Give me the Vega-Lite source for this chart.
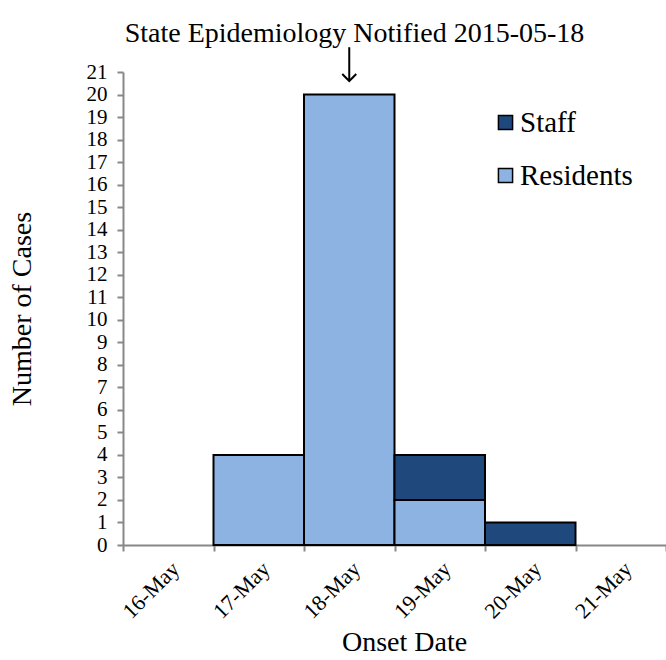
{
  "$schema": "https://vega.github.io/schema/vega-lite/v6.json",
  "width": 543,
  "height": 473,
  "autosize": "none",
  "padding": {"left": 123, "top": 72, "right": 0, "bottom": 115},
  "background": "white",
  "config": {
    "view": {"stroke": null},
    "font": "Liberation Serif",
    "axis": {"grid": false}
  },
  "title": {
    "text": "State Epidemiology Notified 2015-05-18",
    "fontSize": 28,
    "fontWeight": "normal",
    "font": "Liberation Serif",
    "color": "black",
    "anchor": "middle",
    "dx": -40,
    "offset": -2
  },
  "encoding": {
    "x": {
      "field": "date",
      "type": "nominal",
      "scale": {
        "domain": ["16-May", "17-May", "18-May", "19-May", "20-May", "21-May"],
        "paddingInner": 0,
        "paddingOuter": 0
      },
      "axis": {
        "title": "Onset Date",
        "titleFontSize": 28,
        "titleFontWeight": "normal",
        "titleColor": "black",
        "titlePadding": 6,
        "titleX": 281,
        "labelAngle": -45,
        "labelFontSize": 22,
        "labelColor": "black",
        "labelPadding": 7,
        "labelOverlap": false,
        "tickBand": "extent",
        "tickSize": 6,
        "tickColor": "#888888",
        "domainColor": "#888888",
        "domainWidth": 2,
        "tickWidth": 2
      }
    }
  },
  "layer": [
    {
      "data": {
        "values": [
          {"date": "17-May", "group": "Residents", "cases": 4},
          {"date": "18-May", "group": "Residents", "cases": 20},
          {"date": "19-May", "group": "Residents", "cases": 2},
          {"date": "19-May", "group": "Staff", "cases": 2},
          {"date": "20-May", "group": "Staff", "cases": 1}
        ]
      },
      "mark": {"type": "bar", "stroke": "black", "strokeWidth": 2},
      "encoding": {
        "y": {
          "field": "cases",
          "type": "quantitative",
          "stack": "zero",
          "scale": {"domain": [0, 21], "nice": false},
          "axis": {
            "title": "Number of Cases",
            "titleFontSize": 28,
            "titleFontWeight": "normal",
            "titleColor": "black",
            "titlePadding": 50,
            "values": [0,1,2,3,4,5,6,7,8,9,10,11,12,13,14,15,16,17,18,19,20,21],
            "labelOverlap": false,
            "labelFontSize": 21,
            "labelColor": "black",
            "labelPadding": 10,
            "tickSize": 6,
            "tickColor": "#888888",
            "domainColor": "#888888",
            "domainWidth": 2,
            "tickWidth": 2
          }
        },
        "color": {
          "field": "group",
          "type": "nominal",
          "scale": {"domain": ["Staff", "Residents"], "range": ["#1f497d", "#8db3e2"]},
          "legend": {
            "orient": "none",
            "legendX": 368,
            "legendY": 36,
            "title": null,
            "symbolType": "square",
            "symbolSize": 200,
            "symbolStrokeColor": "black",
            "symbolStrokeWidth": 1.5,
            "symbolOpacity": 1,
            "labelFontSize": 29,
            "labelFont": "Liberation Serif",
            "labelColor": "black",
            "labelOffset": 0,
            "rowPadding": 23
          }
        },
        "order": {"field": "group", "sort": "ascending"}
      }
    },
    {
      "data": {"values": [{"date": "18-May", "cases": 22.1, "tip": 20.6}]},
      "mark": {"type": "rule", "stroke": "black", "strokeWidth": 2},
      "encoding": {
        "y": {
          "field": "cases",
          "type": "quantitative",
          "scale": {"domain": [0, 21], "nice": false},
          "axis": {
            "title": "Number of Cases",
            "titleFontSize": 28,
            "titleFontWeight": "normal",
            "titleColor": "black",
            "titlePadding": 50,
            "values": [0,1,2,3,4,5,6,7,8,9,10,11,12,13,14,15,16,17,18,19,20,21],
            "labelOverlap": false,
            "labelFontSize": 21,
            "labelColor": "black",
            "labelPadding": 10,
            "tickSize": 6,
            "tickColor": "#888888",
            "domainColor": "#888888",
            "domainWidth": 2,
            "tickWidth": 2
          }
        },
        "y2": {"field": "tip"}
      }
    },
    {
      "data": {"values": [{"date": "18-May", "cases": 20.6}]},
      "mark": {"type": "point", "shape": "M-1,-1L0,0L1,-1", "filled": false, "stroke": "black", "strokeWidth": 2, "size": 196, "opacity": 1},
      "encoding": {
        "y": {
          "field": "cases",
          "type": "quantitative",
          "scale": {"domain": [0, 21], "nice": false},
          "axis": {
            "title": "Number of Cases",
            "titleFontSize": 28,
            "titleFontWeight": "normal",
            "titleColor": "black",
            "titlePadding": 50,
            "values": [0,1,2,3,4,5,6,7,8,9,10,11,12,13,14,15,16,17,18,19,20,21],
            "labelOverlap": false,
            "labelFontSize": 21,
            "labelColor": "black",
            "labelPadding": 10,
            "tickSize": 6,
            "tickColor": "#888888",
            "domainColor": "#888888",
            "domainWidth": 2,
            "tickWidth": 2
          }
        }
      }
    }
  ]
}
